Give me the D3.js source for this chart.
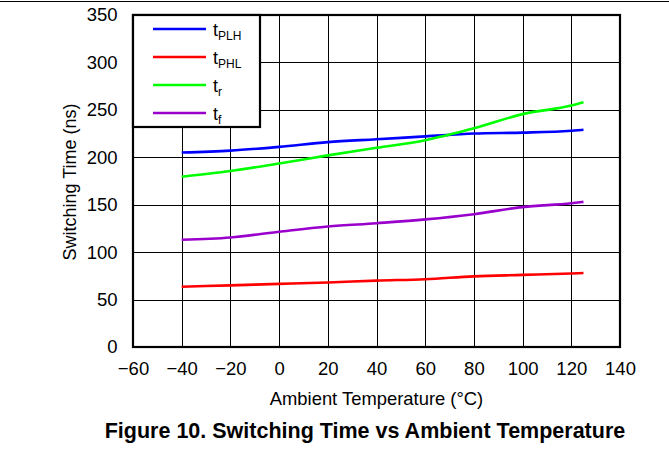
<!DOCTYPE html>
<html>
<head>
<meta charset="utf-8">
<script src="https://cdn.jsdelivr.net/npm/d3@7"></script>
<style>
  body { margin: 0; background: #fff; }
  text { font-family: "Liberation Sans", Arial, sans-serif; fill: #000; }
</style>
</head>
<body>
<div id="chart"></div>
<script>
// 数据
const temps = [-40, -20, 0, 20, 40, 60, 80, 100, 120, 125];
const tPLH = [205, 207, 211, 216, 219, 222, 225, 226, 228, 229];
const tPHL = [63.5, 65, 66.5, 68, 70, 71.5, 74.5, 76, 77.5, 78];
const tR = [179.5, 185.5, 193.5, 202, 210, 218, 230.5, 245.5, 254.5, 258];
const tF = [113, 115.5, 121.5, 127, 130.5, 134.5, 140, 147.5, 151.5, 153];
const xTicks = [-60, -40, -20, 0, 20, 40, 60, 80, 100, 120, 140];
const yTicks = [0, 50, 100, 150, 200, 250, 300, 350];

const series = [
    { main: "t", sub: "PLH", values: tPLH, color: "#0000ff" },
    { main: "t", sub: "PHL", values: tPHL, color: "#ff0000" },
    { main: "t", sub: "r", values: tR, color: "#00ff00" },
    { main: "t", sub: "f", values: tF, color: "#9900cc" }
];

const width = 669, height = 474;
const plot = { left: 133, right: 620, top: 15, bottom: 347 };

const svg = d3.select("#chart").append("svg")
    .attr("width", width)
    .attr("height", height);

// 页面顶部分隔线
svg.append("line")
    .attr("x1", 0).attr("x2", width)
    .attr("y1", 1.5).attr("y2", 1.5)
    .attr("stroke", "#000").attr("stroke-width", 1.2);

const x = d3.scaleLinear().domain([-60, 140]).range([plot.left, plot.right]);
const y = d3.scaleLinear().domain([0, 350]).range([plot.bottom, plot.top]);

// 网格
const grid = svg.append("g").attr("stroke", "#000").attr("stroke-width", 1);
grid.selectAll("line.v").data(xTicks.slice(1, -1)).enter().append("line")
    .attr("x1", d => Math.round(x(d)) + 0.5).attr("x2", d => Math.round(x(d)) + 0.5)
    .attr("y1", plot.top).attr("y2", plot.bottom);
grid.selectAll("line.h").data(yTicks.slice(1, -1)).enter().append("line")
    .attr("x1", plot.left).attr("x2", plot.right)
    .attr("y1", d => Math.round(y(d)) + 0.5).attr("y2", d => Math.round(y(d)) + 0.5);

// 曲线
const line = d3.line()
    .x((d, i) => x(temps[i]))
    .y(d => y(d))
    .curve(d3.curveMonotoneX);

svg.selectAll("path.series").data(series).enter().append("path")
    .attr("class", "series")
    .attr("fill", "none")
    .attr("stroke", d => d.color)
    .attr("stroke-width", 2.6)
    .attr("d", d => line(d.values));

// 图框
svg.append("rect")
    .attr("x", plot.left).attr("y", plot.top)
    .attr("width", plot.right - plot.left).attr("height", plot.bottom - plot.top)
    .attr("fill", "none").attr("stroke", "#000").attr("stroke-width", 2.2);

// 坐标轴刻度标签
const xAxis = d3.axisBottom(x).tickValues(xTicks).tickSize(0).tickPadding(15)
    .tickFormat(d => d < 0 ? "\u2212" + Math.abs(d) : d);
const gx = svg.append("g").attr("transform", `translate(0,${plot.bottom})`).call(xAxis);
gx.select(".domain").remove();
gx.selectAll("text").style("font-size", "18.5px").attr("font-family", null);

const yAxis = d3.axisLeft(y).tickValues(yTicks).tickSize(0).tickPadding(15.5);
const gy = svg.append("g").attr("transform", `translate(${plot.left},0)`).call(yAxis);
gy.select(".domain").remove();
gy.selectAll("text").style("font-size", "18.5px").attr("font-family", null);

// 轴标题
svg.append("text")
    .attr("x", (plot.left + plot.right) / 2)
    .attr("y", 405)
    .attr("text-anchor", "middle")
    .style("font-size", "18.4px")
    .text("Ambient Temperature (°C)");

svg.append("text")
    .attr("transform", `translate(76,${(plot.top + plot.bottom) / 2 + 1}) rotate(-90)`)
    .attr("text-anchor", "middle")
    .style("font-size", "18px")
    .text("Switching Time (ns)");

// 图题
svg.append("text")
    .attr("x", 365)
    .attr("y", 438)
    .attr("text-anchor", "middle")
    .style("font-size", "21.5px")
    .style("font-weight", "bold")
    .text("Figure 10. Switching Time vs Ambient Temperature");

// 图例
const legend = svg.append("g");
legend.append("rect")
    .attr("x", plot.left).attr("y", plot.top)
    .attr("width", 127).attr("height", 112)
    .attr("fill", "#fff").attr("stroke", "#000").attr("stroke-width", 2.2);

const items = legend.selectAll("g.item").data(series).enter().append("g")
    .attr("transform", (d, i) => `translate(0,${29 + i * 28})`);
items.append("line")
    .attr("x1", 153).attr("x2", 206)
    .attr("y1", 0).attr("y2", 0)
    .attr("stroke", d => d.color).attr("stroke-width", 2.6);
const label = items.append("text")
    .attr("x", 213).attr("y", 7)
    .style("font-size", "18px");
label.append("tspan").text(d => d.main);
label.append("tspan")
    .attr("dy", 4)
    .style("font-size", "12px")
    .text(d => d.sub);
</script>
</body>
</html>
